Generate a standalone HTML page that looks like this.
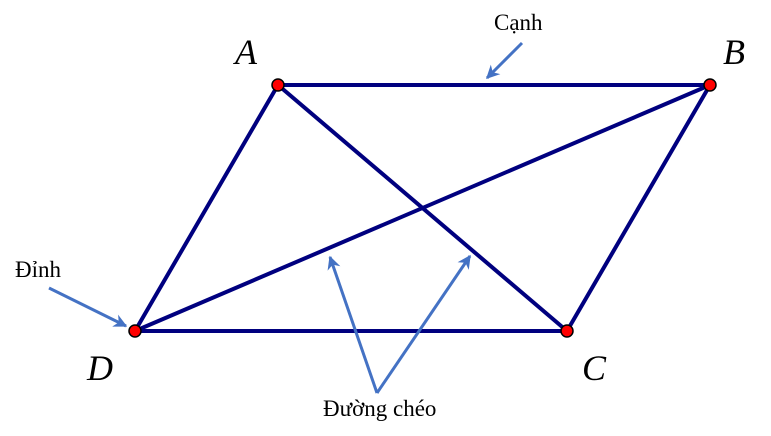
<!DOCTYPE html>
<html><head><meta charset="utf-8"><style>
html,body{margin:0;padding:0;background:#fff;}
svg{display:block;}
text{font-family:"Liberation Serif",serif;}
</style></head><body>
<svg width="771" height="436" viewBox="0 0 771 436" xmlns="http://www.w3.org/2000/svg">
<defs>
<marker id="ah" viewBox="0 0 10 10" refX="9" refY="5" markerWidth="4.5" markerHeight="4.5" orient="auto" markerUnits="strokeWidth">
<path d="M0,0 L10,5 L0,10 L3,5 z" fill="#4472c4"/>
</marker>
</defs>
<g stroke="#00007f" stroke-width="4" stroke-linecap="round" fill="none">
<line x1="278" y1="85" x2="710" y2="85"/>
<line x1="710" y1="85" x2="567" y2="331"/>
<line x1="567" y1="331" x2="135" y2="331"/>
<line x1="135" y1="331" x2="278" y2="85"/>
<line x1="278" y1="85" x2="567" y2="331"/>
<line x1="710" y1="85" x2="135" y2="331"/>
</g>
<g stroke="#4472c4" stroke-width="3" fill="none" marker-end="url(#ah)">
<line x1="522" y1="43" x2="487" y2="78"/>
<line x1="49" y1="288" x2="126" y2="326"/>
<line x1="377" y1="393" x2="330" y2="257"/>
<line x1="377" y1="393" x2="470" y2="256"/>
</g>
<g fill="#ff0000" stroke="#000" stroke-width="1.5">
<circle cx="278" cy="85" r="6"/>
<circle cx="710" cy="85" r="6"/>
<circle cx="567" cy="331" r="6"/>
<circle cx="135" cy="331" r="6"/>
</g>
<g font-style="italic" font-size="36" fill="#000">
<text x="235" y="64">A</text>
<text x="723" y="64">B</text>
<text x="582" y="380">C</text>
<text x="87" y="380">D</text>
</g>
<g font-size="23" fill="#000">
<text x="494" y="30">Cạnh</text>
<text x="15" y="277">Đỉnh</text>
<text x="323" y="416">Đường chéo</text>
</g>
</svg>
</body></html>
